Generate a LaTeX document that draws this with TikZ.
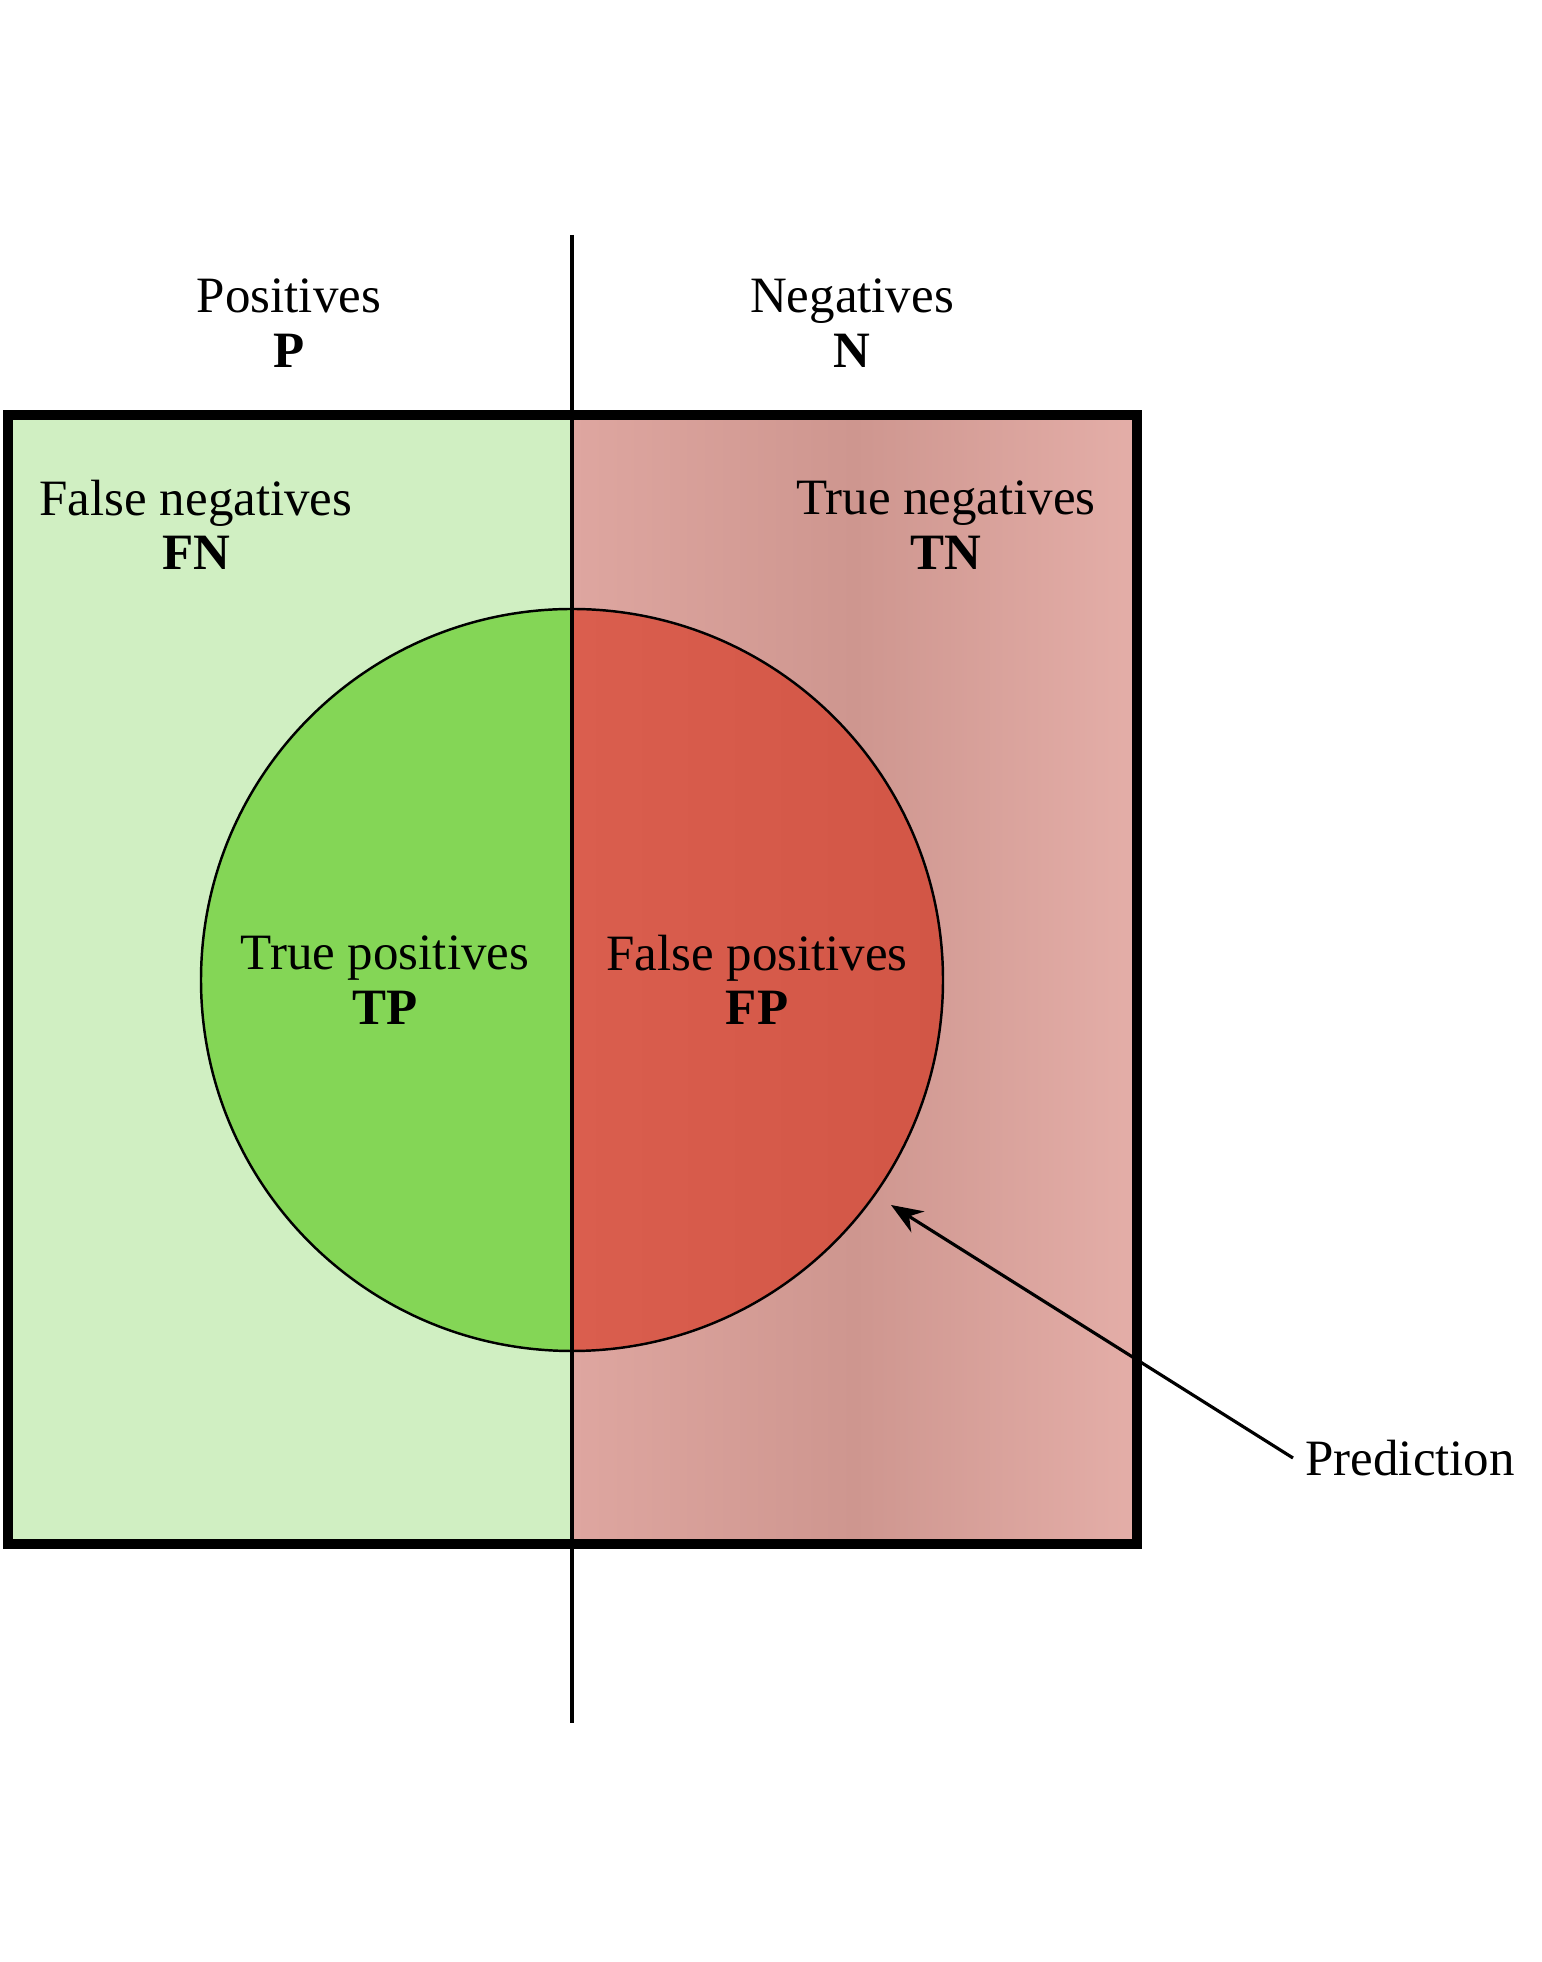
\documentclass[tikz,border=0pt]{standalone}
\usepackage{fontspec}
\setmainfont{Liberation Serif}
\usepackage{tikz}
\usetikzlibrary{arrows.meta}

\definecolor{fnGreen}{RGB}{208,239,194}
\definecolor{tpGreen}{RGB}{132,214,86}
\definecolor{fpRedL}{RGB}{218,94,78}
\definecolor{fpRedR}{RGB}{210,86,70}
\definecolor{tnPinkL}{RGB}{222,166,160}
\definecolor{tnPinkM}{RGB}{206,150,143}
\definecolor{tnPinkR}{RGB}{228,174,168}

\tikzset{
  lbl/.style={align=center, font=\fontsize{14.5}{15.5}\selectfont},
}

\begin{document}
\begin{tikzpicture}[>={Stealth[length=9pt, width=7pt]}]
  \useasboundingbox (0,0) rectangle (15.42,19.62);
  % actual classes
  \fill[fnGreen] (0.08,4.18) rectangle (5.72,15.47);
  \shade[left color=tnPinkL, right color=tnPinkR, middle color=tnPinkM] (5.72,4.18) rectangle (11.37,15.47);
  % prediction circle
  \fill[tpGreen] (5.72,13.53) arc[start angle=90, end angle=270, radius=3.71] -- cycle;
  \shade[left color=fpRedL, right color=fpRedR] (5.72,13.53) arc[start angle=90, end angle=-90, radius=3.71] -- cycle;
  \node[circle, draw, line width=0.7pt, minimum size=7.42cm, inner sep=0pt] (pred circ) at (5.72,9.82) {};
  \draw[line width=0.9pt] (5.72,17.27) -- (5.72,2.39);
  \draw[line width=2.8pt] (0.08,4.18) rectangle (11.37,15.47);
  % labels
  \node[lbl] (pos) at (2.89,16.39) {Positives\\\textbf{P}};
  \node[lbl] (neg) at (8.52,16.39) {Negatives\\\textbf{N}};
  \node[lbl] (fn) at (1.96,14.37) {False negatives\\\textbf{FN}};
  \node[lbl] (tn) at (9.46,14.37) {True negatives\\\textbf{TN}};
  \node[lbl] (tp) at (3.85,9.82) {True positives\\\textbf{TP}};
  \node[lbl] (fp) at (7.57,9.82) {False positives\\\textbf{FP}};
  \node[lbl, anchor=west] (pred) at (12.93,5.04) {Prediction};
  \coordinate (pred tip) at (8.91,7.57);
  \draw[->, line width=0.9pt] (pred.west) -- (pred tip);
\end{tikzpicture}
\end{document}
